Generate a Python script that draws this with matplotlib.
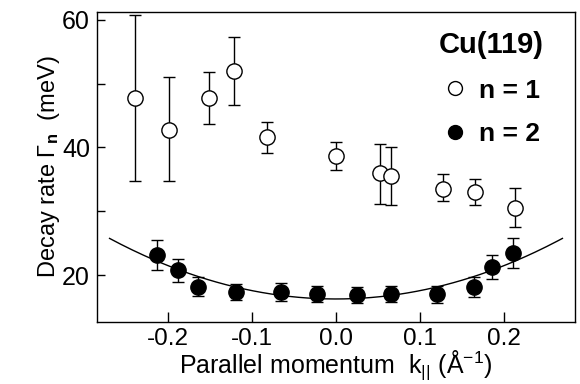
import numpy as np
import matplotlib
matplotlib.use("Agg")
import matplotlib.pyplot as plt
from matplotlib.lines import Line2D

plt.rcParams['font.family'] = ['Liberation Sans', 'DejaVu Sans']
plt.rcParams['mathtext.fontset'] = 'custom'
plt.rcParams['mathtext.rm'] = 'Liberation Sans'
plt.rcParams['mathtext.bf'] = 'Liberation Sans:bold'
plt.rcParams['mathtext.it'] = 'Liberation Sans:italic'

# n = 1 (open circles)
k_n1 = [-0.240, -0.199, -0.152, -0.122, -0.082, 0.000, 0.053, 0.065, 0.128, 0.166, 0.213]
gamma_n1 = [47.7, 42.8, 47.7, 52.0, 41.6, 38.6, 36.0, 35.6, 33.5, 33.1, 30.5]
err_n1_up = [13.1, 8.2, 4.1, 5.3, 2.4, 2.2, 4.6, 4.5, 2.3, 1.9, 3.2]
err_n1_dn = [13.0, 8.0, 4.1, 5.4, 2.4, 2.2, 4.9, 4.6, 1.9, 2.1, 3.0]

# n = 2 (filled circles)
k_n2 = [-0.213, -0.188, -0.164, -0.119, -0.065, -0.023, 0.025, 0.066, 0.120, 0.165, 0.186, 0.211]
gamma_n2 = [23.2, 20.8, 18.2, 17.4, 17.4, 17.1, 16.9, 17.1, 17.0, 18.2, 21.3, 23.5]
err_n2 = [2.3, 1.8, 1.5, 1.3, 1.4, 1.3, 1.3, 1.3, 1.4, 1.6, 1.9, 2.3]

# parabolic fit to n = 2, Gamma = g0 + c k^2
fit_g0 = 16.3
fit_c = 130.0
fit_range = (-0.27, 0.27)

fig = plt.figure(figsize=(5.8, 3.84), dpi=100)
ax = fig.add_axes([0.1672, 0.1615, 0.8242, 0.8073])

kf = np.linspace(fit_range[0], fit_range[1], 200)
ax.plot(kf, fit_g0 + fit_c * kf ** 2, color='black', lw=1.0, zorder=2)

ax.errorbar(k_n1, gamma_n1, yerr=[err_n1_dn, err_n1_up], fmt='o', ms=11,
            mfc='white', mec='black', mew=1.0, ecolor='black', elinewidth=1.0,
            capsize=4.5, capthick=1.0, zorder=3)
ax.errorbar(k_n2, gamma_n2, yerr=err_n2, fmt='o', ms=11,
            mfc='black', mec='black', mew=1.0, ecolor='black', elinewidth=1.0,
            capsize=4.5, capthick=1.0, zorder=3)

ax.set_xlim(-0.285, 0.285)
ax.set_ylim(12.7, 61.2)
ax.set_xticks([-0.2, -0.1, 0.0, 0.1, 0.2])
ax.set_xticklabels(['-0.2', '-0.1', '0.0', '0.1', '0.2'])
ax.set_yticks([20, 30, 40, 50, 60])
ax.set_yticklabels(['20', '', '40', '', '60'])
ax.tick_params(axis='x', direction='in', length=7, width=1.0, labelsize=17.5, pad=4)
ax.tick_params(axis='y', direction='in', length=6, width=1.0, labelsize=18, pad=5)
for s in ax.spines.values():
    s.set_linewidth(1.0)

ax.set_xlabel('Parallel momentum  k$_{\\mathrm{||}}$ (Å$^{-1}$)', fontsize=18, labelpad=-1)
ax.set_ylabel('Decay rate Γ$_{\\mathbf{n}}$  (meV)', fontsize=17, labelpad=0)

handles = [Line2D([], [], ls='none', marker='o', ms=10, mfc='white', mec='black', mew=1.0),
           Line2D([], [], ls='none', marker='o', ms=10, mfc='black', mec='black', mew=1.0)]
leg = ax.legend(handles, ['n = 1', 'n = 2'], loc='upper right',
                bbox_to_anchor=(0.967, 0.99), frameon=False,
                title='Cu(119)', title_fontproperties={'size': 21, 'weight': 'bold'},
                prop={'size': 19, 'weight': 'bold'}, handlelength=1.0,
                handletextpad=0.4, labelspacing=0.75, borderaxespad=0.2)

fig.savefig('out.png', dpi=100)
